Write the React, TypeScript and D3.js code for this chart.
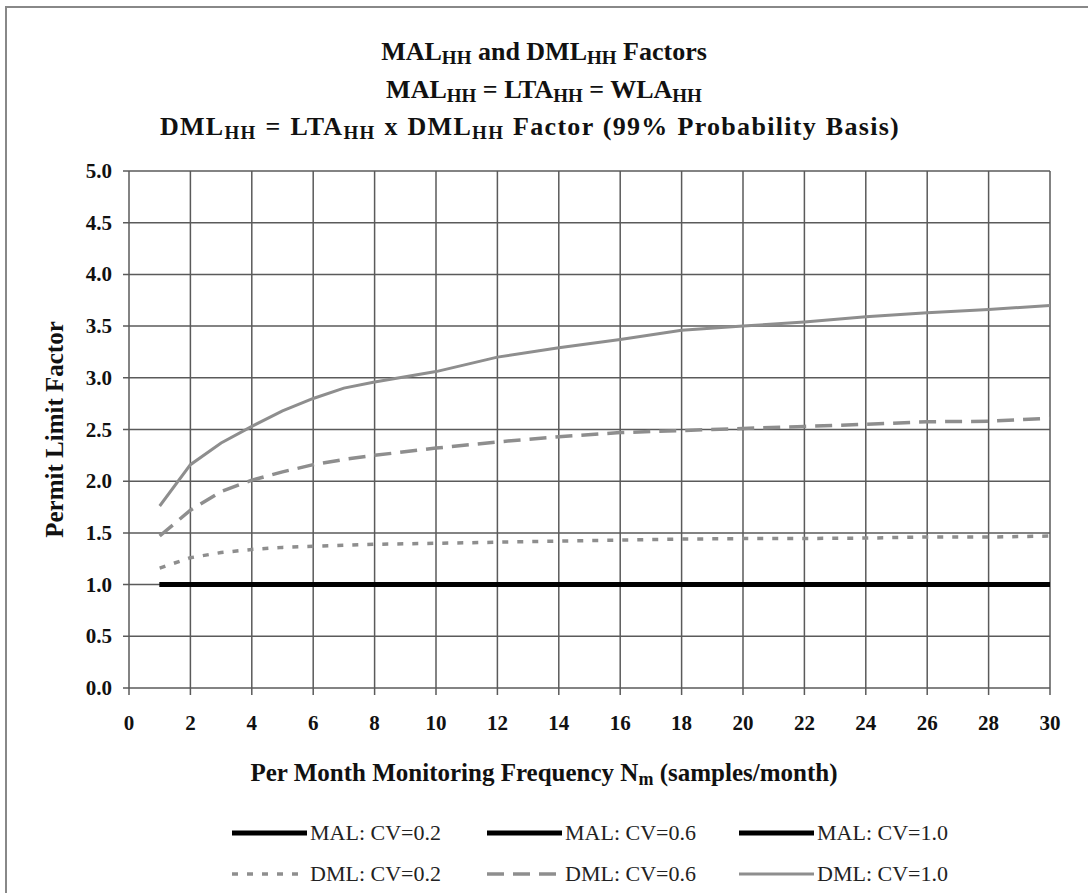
import React from "react";
import * as d3 from "d3";

// Monitoring frequency (samples/month)
const nValues = [1, 2, 3, 4, 5, 6, 7, 8, 10, 12, 14, 16, 18, 20, 22, 24, 26, 28, 30];
// MAL factors (all equal 1.0)
const malCv02 = [1, 1, 1, 1, 1, 1, 1, 1, 1, 1, 1, 1, 1, 1, 1, 1, 1, 1, 1];
const malCv06 = [1, 1, 1, 1, 1, 1, 1, 1, 1, 1, 1, 1, 1, 1, 1, 1, 1, 1, 1];
const malCv10 = [1, 1, 1, 1, 1, 1, 1, 1, 1, 1, 1, 1, 1, 1, 1, 1, 1, 1, 1];
// DML factors
const dmlCv02 = [1.16, 1.26, 1.31, 1.34, 1.36, 1.37, 1.38, 1.39, 1.4, 1.41, 1.42, 1.43, 1.44, 1.445, 1.446, 1.45, 1.46, 1.46, 1.47];
const dmlCv06 = [1.47, 1.72, 1.9, 2.01, 2.09, 2.16, 2.21, 2.25, 2.32, 2.38, 2.43, 2.47, 2.49, 2.51, 2.53, 2.55, 2.575, 2.58, 2.61];
const dmlCv10 = [1.76, 2.16, 2.37, 2.53, 2.68, 2.8, 2.9, 2.96, 3.06, 3.2, 3.29, 3.37, 3.46, 3.5, 3.54, 3.59, 3.63, 3.66, 3.7];

const xTickValues = [0, 2, 4, 6, 8, 10, 12, 14, 16, 18, 20, 22, 24, 26, 28, 30];
const yTickValues = [0, 0.5, 1, 1.5, 2, 2.5, 3, 3.5, 4, 4.5, 5];

const legendLabels = ["MAL: CV=0.2", "MAL: CV=0.6", "MAL: CV=1.0", "DML: CV=0.2", "DML: CV=0.6", "DML: CV=1.0"];

const W = 1088;
const H = 893;
const plot = { left: 129, right: 1050, top: 171, bottom: 688 };
const FONT = '"Liberation Serif", "DejaVu Serif", "Times New Roman", serif';
const GRAY = "#8e8e8e";

type Style = { stroke: string; width: number; dash?: string };
const styles: Style[] = [
  { stroke: "#000", width: 5 },
  { stroke: "#000", width: 5 },
  { stroke: "#000", width: 5 },
  { stroke: GRAY, width: 3.5, dash: "6,9" },
  { stroke: GRAY, width: 3.5, dash: "17,9" },
  { stroke: GRAY, width: 3 },
];

export default function App() {
  const x = d3.scaleLinear().domain([0, 30]).range([plot.left, plot.right]);
  const y = d3.scaleLinear().domain([0, 5]).range([plot.bottom, plot.top]);
  const series = [malCv02, malCv06, malCv10, dmlCv02, dmlCv06, dmlCv10];
  const line = d3
    .line<number>()
    .x((_, i) => x(nValues[i]))
    .y((d) => y(d));

  const sub = (t: string) => (
    <tspan fontSize="19" dy="4">{t}</tspan>
  );

  const legendX = [232, 487, 739];
  const legendY = [833, 874];

  return (
    <svg width={W} height={H} style={{ position: "absolute", left: 0, top: 0, background: "#fff", fontFamily: FONT }}>
      <rect x={0} y={0} width={W} height={H} fill="#fff" />
      <rect x={6} y={7} width={W + 50} height={H + 50} fill="none" stroke="#888" strokeWidth={2} />

      {/* Title */}
      <g fontWeight="bold" fontSize="26" textAnchor="middle" fill="#111" style={{ fontFamily: FONT, whiteSpace: "pre" }}>
        <text x={544} y={60}>
          MAL{sub("HH")}<tspan dy="-4"> and DML</tspan>{sub("HH")}<tspan dy="-4"> Factors</tspan>
        </text>
        <text x={544} y={98}>
          MAL{sub("HH")}<tspan dy="-4"> = LTA</tspan>{sub("HH")}<tspan dy="-4"> = WLA</tspan>{sub("HH")}
        </text>
        <text x={530} y={135} letterSpacing="1.3" wordSpacing="1">
          DML{sub("HH")}<tspan dy="-4"> = LTA</tspan>{sub("HH")}<tspan dy="-4"> x DML</tspan>{sub("HH")}
          <tspan dy="-4"> Factor  (99% Probability Basis)</tspan>
        </text>
      </g>

      {/* Grid */}
      <g stroke="#5a5a5a" strokeWidth={1.5}>
        {xTickValues.map((t) => (
          <line key={"gx" + t} x1={x(t)} x2={x(t)} y1={plot.top} y2={plot.bottom + 7} />
        ))}
        {yTickValues.map((t) => (
          <line key={"gy" + t} x1={plot.left - 6} x2={plot.right} y1={y(t)} y2={y(t)} />
        ))}
      </g>

      {/* Tick labels */}
      <g fontWeight="bold" fontSize="21" fill="#111" style={{ fontFamily: FONT }}>
        {yTickValues.map((t) => (
          <text key={"ly" + t} x={plot.left - 17} y={y(t) + 7} textAnchor="end">
            {t.toFixed(1)}
          </text>
        ))}
        {xTickValues.map((t) => (
          <text key={"lx" + t} x={x(t)} y={plot.bottom + 42} textAnchor="middle">
            {t}
          </text>
        ))}
      </g>

      {/* Axis titles */}
      <text x={544} y={781} textAnchor="middle" fontWeight="bold" fontSize="25" fill="#111" style={{ fontFamily: FONT }}>
        Per Month Monitoring Frequency N<tspan fontSize="18" dy="4">m</tspan>
        <tspan dy="-4"> (samples/month)</tspan>
      </text>
      <text
        transform={`translate(63, ${(plot.top + plot.bottom) / 2}) rotate(-90)`}
        textAnchor="middle"
        fontWeight="bold"
        fontSize="25"
        fill="#111"
        style={{ fontFamily: FONT }}
      >
        Permit Limit Factor
      </text>

      {/* Series */}
      {series.map((s, i) => (
        <path
          key={"s" + i}
          d={line(s) || ""}
          fill="none"
          stroke={styles[i].stroke}
          strokeWidth={styles[i].width}
          strokeDasharray={styles[i].dash}
        />
      ))}

      {/* Legend */}
      {legendLabels.map((lab, i) => {
        const col = i % 3;
        const row = Math.floor(i / 3);
        const lx = legendX[col];
        const ly = legendY[row];
        const st = styles[i];
        return (
          <g key={"lg" + i}>
            <line x1={lx} x2={lx + 75} y1={ly} y2={ly} stroke={st.stroke} strokeWidth={st.width} strokeDasharray={st.dash} />
            <text x={lx + 78} y={ly + 7} fontSize="22" fill="#222" style={{ fontFamily: FONT }}>
              {lab}
            </text>
          </g>
        );
      })}
    </svg>
  );
}
